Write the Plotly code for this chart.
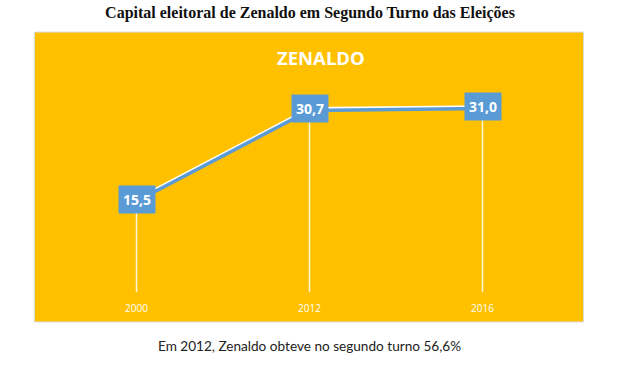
import plotly.graph_objects as go

years = ["2000", "2012", "2016"]
values = [15.5, 30.7, 31.0]
labels = ["15,5", "30,7", "31,0"]

chart_title = "Capital eleitoral de Zenaldo em Segundo Turno das Eleições"
inner_title = "ZENALDO"
caption = "Em 2012, Zenaldo obteve no segundo turno 56,6%"

GOLD = "#FFC000"
BLUE = "#5B9BD5"

fig = go.Figure()

# drop lines via error bars
fig.add_trace(go.Scatter(
    x=years, y=values, mode="markers",
    marker=dict(size=1, color="rgba(0,0,0,0)"),
    error_y=dict(type="data", symmetric=False, array=[0] * len(values),
                 arrayminus=values, color="rgba(255,255,255,0.85)",
                 thickness=1.5, width=0),
    hoverinfo="skip", showlegend=False))

# blue shadow line (on slightly shifted axis)
fig.add_trace(go.Scatter(
    x=years, y=values, mode="lines", yaxis="y2",
    line=dict(color=BLUE, width=3.5), showlegend=False, hoverinfo="skip"))

# white line
fig.add_trace(go.Scatter(
    x=years, y=values, mode="lines",
    line=dict(color="white", width=3), showlegend=False))

annotations = []
for i, (y, t) in enumerate(zip(values, labels)):
    annotations.append(dict(
        x=i, y=y, xref="x", yref="y", text="<b>" + t + "</b>",
        showarrow=False, bgcolor=BLUE, borderpad=4,
        font=dict(family="Open Sans", size=14, color="white"),
        xanchor="center", yanchor="middle"))

annotations.append(dict(
    x=0.523, y=1.035, xref="paper", yref="paper", text="<b>" + inner_title + "</b>",
    showarrow=False, font=dict(family="Open Sans", size=18.5, color="white"),
    xanchor="center", yanchor="middle"))

annotations.append(dict(
    x=0.5, y=-0.238, xref="paper", yref="paper", text=caption,
    showarrow=False, font=dict(family="Lato", size=13.6, color="#222222"),
    xanchor="center", yanchor="middle"))

fig.update_layout(
    width=619, height=369,
    margin=dict(l=50, r=50, t=65, b=77),
    paper_bgcolor="white",
    plot_bgcolor=GOLD,
    title=dict(text="<b>" + chart_title + "</b>", x=310 / 619, xanchor="center",
               y=1 - 12 / 369, yanchor="middle", yref="container",
               font=dict(family="Liberation Serif", size=16, color="#111111")),
    xaxis=dict(type="category", range=[-0.5, 2.5], showgrid=False,
               zeroline=False, showline=False,
               ticks="outside", ticklen=7, tickcolor="rgba(0,0,0,0)",
               tickfont=dict(family="Open Sans", size=10, color="white")),
    yaxis=dict(range=[0, 38], visible=False, showgrid=False, zeroline=False),
    yaxis2=dict(range=[0.3, 38.3], overlaying="y", visible=False,
                showgrid=False, zeroline=False),
    annotations=annotations,
    shapes=[dict(type="rect", xref="paper", yref="paper",
                 x0=-0.0299, x1=1.028, y0=-0.132, y1=1.145,
                 fillcolor=GOLD, line=dict(color="#D9D9D9", width=1),
                 layer="below")],
    showlegend=False,
)

fig.write_html("out.html",
               config={"displayModeBar": False},
               post_script="document.body.style.margin='0';document.body.style.padding='0';")
